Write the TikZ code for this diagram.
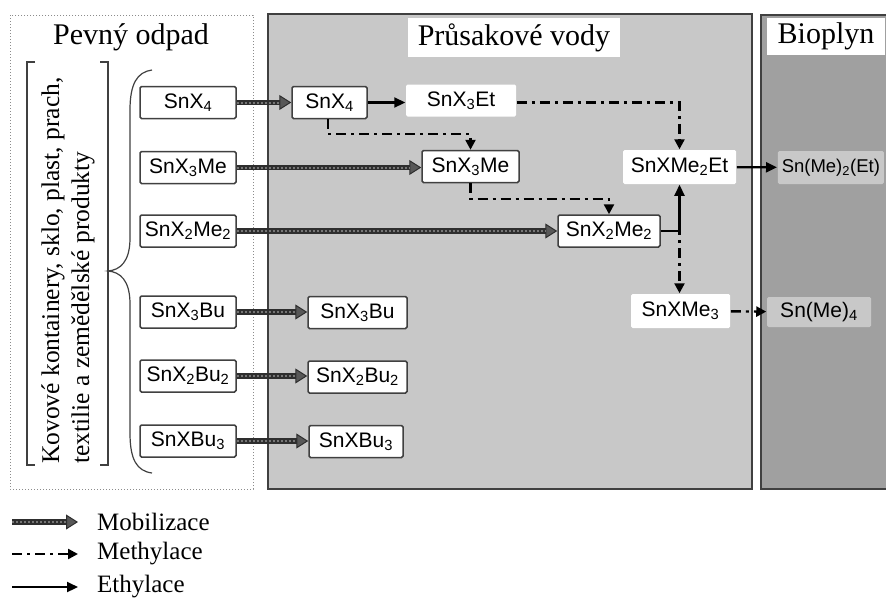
\documentclass[tikz,border=0pt]{standalone}
\usepackage{fontspec}
\setmainfont{Liberation Serif}
\newfontfamily\boxfont{Liberation Sans}
\usepackage{xcolor}
\definecolor{cPanel}{HTML}{C8C8C8}
\definecolor{cGas}{HTML}{A0A0A0}
\definecolor{cEdge}{HTML}{404040}
\definecolor{cMob}{HTML}{2E2E2E}
\definecolor{cTwist}{HTML}{767676}
\definecolor{cDots}{HTML}{8C8C8C}
\usepackage{tikz}
\usetikzlibrary{positioning,arrows.meta}
\tikzset{
  node-box/.style={draw=cEdge,line width=1.5pt,fill=white,rounded corners=1.5pt,
    minimum height=32pt,minimum width=96pt,inner sep=2pt,
    font=\boxfont\fontsize{21}{24}\selectfont},
  node-plain/.style={node-box,draw=none},
  node-gas/.style={node-box,draw=none,fill=cPanel},
  node-title/.style={font=\fontsize{30}{34}\selectfont,inner sep=0pt},
  node-legend/.style={font=\fontsize{25}{28}\selectfont,inner sep=0pt,anchor=west},
  panel/.style={draw=cEdge,line width=2pt},
  panel-waste/.style={draw=cDots,line width=1pt,dash pattern=on 1pt off 2pt},
  brace-line/.style={draw=cEdge,line width=1.2pt},
  % mobilizace = tlusta "kroucena" sipka, methylace = carka-tecka, ethylace = plna
  arrow-mob/.style={draw=cMob,line width=5.5pt,
    -{Triangle[length=12pt,width=15pt,line width=1pt,fill=cMob!80]},
    postaction={draw=cTwist,-,line width=2pt,dash pattern=on 2pt off 2pt,
      shorten >=12pt}},
  arrow-meth/.style={draw=black,line width=2.4pt,
    dash pattern=on 10pt off 5pt on 3pt off 5pt,-{Triangle[length=10pt,width=10pt]}},
  arrow-eth/.style={draw=black,line width=2.2pt,-{Triangle[length=11pt,width=10pt]}},
}

\begin{document}
\begin{tikzpicture}[x=1pt,y=-1pt]
  \clip (0,0) rectangle (886,603);
  \draw[panel-waste] (10,15) rectangle (253,489);
  \draw[panel,fill=cPanel] (268,14) rectangle (752,489);
  \draw[panel,fill=cGas] (761,15) rectangle (900,489);
  \node[node-title] (t-waste) at (131,37) {Pevný odpad};
  \node[node-title,fill=white,minimum width=212pt,minimum height=39pt] (t-leach) at (514,37.5) {Průsakové vody};
  \node[node-title,fill=white,minimum width=118pt,minimum height=37pt] (t-gas) at (826,36.5) {Bioplyn};

  \node[rotate=90,anchor=west,align=left,inner sep=0pt,
    font=\fontsize{25.5}{30}\selectfont] (src) at (68,464)
    {Kovové kontainery, sklo, plast, prach,\\textilie a zemědělské produkty};
  \draw[brace-line] (35,62) -- (27,62) -- (27,465) -- (35,465);
  \draw[brace-line] (100,62) -- (108,62) -- (108,465) -- (100,465);
  \draw[brace-line] (152,70) .. controls (137,72) and (130,84) .. (130,110) -- (130,238)
    .. controls (130,262) and (120,270) .. (108,271)
    .. controls (120,272) and (130,280) .. (130,304) -- (130,433)
    .. controls (130,460) and (137,471) .. (152,473);

  \node[node-box] (s-x4)   at (188,102.5) {SnX\textsubscript{4}};
  \node[node-box] (s-x3me) at (188,167.5) {SnX\textsubscript{3}Me};
  \node[node-box] (s-x2me) at (188,231)   {SnX\textsubscript{2}Me\textsubscript{2}};
  \node[node-box] (s-x3bu) at (188,312)   {SnX\textsubscript{3}Bu};
  \node[node-box] (s-x2bu) at (188,376)   {SnX\textsubscript{2}Bu\textsubscript{2}};
  \node[node-box] (s-xbu)  at (188,441)   {SnXBu\textsubscript{3}};

  \node[node-box,minimum width=75pt] (v-x4)   at (329.5,102.5) {SnX\textsubscript{4}};
  \node[node-plain,minimum width=110pt] (v-x3et) at (461,100.5) {SnX\textsubscript{3}Et};
  \node[node-box,minimum width=97pt] (v-x3me) at (470.5,166.5) {SnX\textsubscript{3}Me};
  \node[node-box,minimum width=102pt] (v-x2me) at (609,231) {SnX\textsubscript{2}Me\textsubscript{2}};
  \node[node-plain,minimum width=113pt,minimum height=34pt] (v-xme2et) at (679.5,167) {SnXMe\textsubscript{2}Et};
  \node[node-plain,minimum width=99pt,minimum height=34pt] (v-xme3) at (680.5,311) {SnXMe\textsubscript{3}};
  \node[node-box,minimum width=99pt] (v-x3bu) at (357.5,312.5) {SnX\textsubscript{3}Bu};
  \node[node-box,minimum width=99pt] (v-x2bu) at (357.5,377)   {SnX\textsubscript{2}Bu\textsubscript{2}};
  \node[node-box,minimum width=94pt] (v-xbu)  at (356,441.5)   {SnXBu\textsubscript{3}};

  \node[node-gas,anchor=west,minimum height=33pt,inner xsep=4pt,
    font=\boxfont\fontsize{18.5}{22}\selectfont] (g-me2et) at (777,167.5) {Sn(Me)\textsubscript{2}(Et)};
  \node[node-gas,minimum width=104pt,minimum height=30pt] (g-me4) at (819,312) {Sn(Me)\textsubscript{4}};

  \draw[arrow-mob] (s-x4) -- (v-x4);
  \draw[arrow-mob] (s-x3me) -- (v-x3me.west |- s-x3me);
  \draw[arrow-mob] (s-x2me) -- (v-x2me);
  \draw[arrow-mob] (s-x3bu) -- (v-x3bu.west |- s-x3bu);
  \draw[arrow-mob] (s-x2bu) -- (v-x2bu.west |- s-x2bu);
  \draw[arrow-mob] (s-xbu) -- (v-xbu.west |- s-xbu);

  \draw[arrow-eth] (v-x4) -- (v-x3et.west |- v-x4);
  \draw[arrow-eth] (v-x2me.east) -| (v-xme2et.south);
  \draw[arrow-eth] (v-xme2et) -- (g-me2et);
  \coordinate (split) at ([yshift=6pt]v-xme2et.south |- v-x2me.east);

  \draw[arrow-meth] ([xshift=-1.5pt]v-x4.south) -- ++(0,15) -| (v-x3me.north);
  \draw[arrow-meth] (v-x3me.south) -- ++(0,16) -| (v-x2me.north);
  \draw[arrow-meth] (v-x3et.east |- v-x4) -| (v-xme2et.north);
  \draw[arrow-meth] (split) -- (split |- v-xme3.north);
  \draw[arrow-meth] (v-xme3) -- (g-me4);

  \coordinate (lg-mob-a) at (12,522);
  \coordinate (lg-mob-b) at (78,522);
  \node[node-legend,right=19pt of lg-mob-b] (lg-mob) {Mobilizace};
  \draw[arrow-mob] (lg-mob-a) -- (lg-mob-b);
  \coordinate (lg-meth-a) at (12,554);
  \coordinate (lg-meth-b) at (78,554);
  \node[node-legend,right=19pt of lg-meth-b] (lg-meth) {Methylace};
  \draw[arrow-meth] (lg-meth-a) -- (lg-meth-b);
  \coordinate (lg-eth-a) at (12,587);
  \coordinate (lg-eth-b) at (78,587);
  \node[node-legend,right=19pt of lg-eth-b] (lg-eth) {Ethylace};
  \draw[arrow-eth] (lg-eth-a) -- (lg-eth-b);
\end{tikzpicture}
\end{document}
